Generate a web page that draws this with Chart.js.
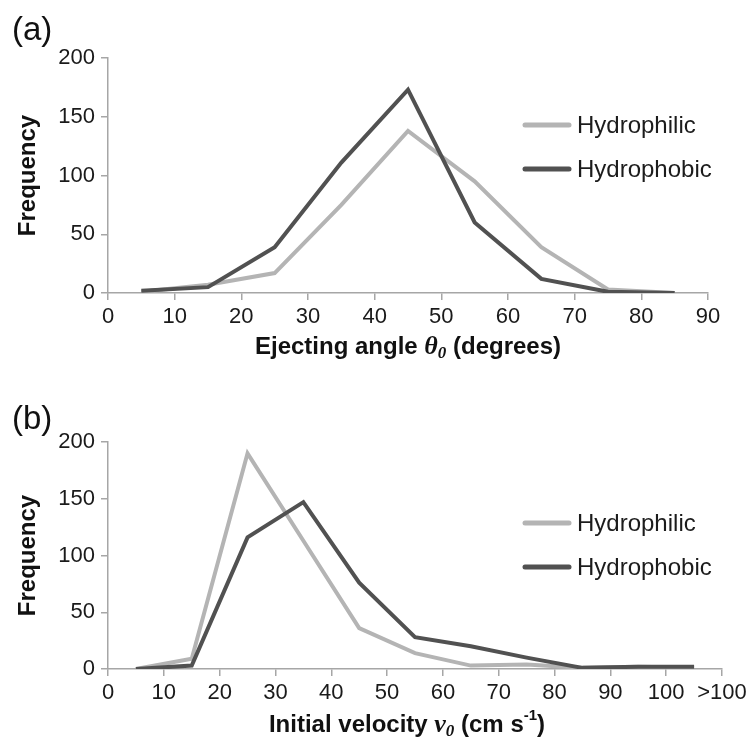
<!DOCTYPE html>
<html>
<head>
<meta charset="utf-8">
<script src="https://cdn.jsdelivr.net/npm/chart.js@4.4.0/dist/chart.umd.min.js"></script>
<style>
  html, body { margin: 0; padding: 0; background: #fff; }
  #wrap { position: relative; width: 751px; height: 743px; overflow: hidden; }
  .panel { position: absolute; left: 0; }
  .tag { position: absolute; left: 12px; font-family: "Liberation Sans", Arial, sans-serif; font-size: 33px; color: #111; line-height: 1; }
</style>
</head>
<body>
<div id="wrap">
  <canvas id="c1" class="panel" style="top:0px" width="751" height="370"></canvas>
  <canvas id="c2" class="panel" style="top:370px" width="751" height="373"></canvas>
  <div class="tag" style="top:12px">(a)</div>
  <div class="tag" style="top:401px">(b)</div>
</div>
<script>
// ---- Data ----
const seriesNames = ["Hydrophilic", "Hydrophobic"];

// Panel (a): ejecting angle bins (bin centres, degrees)
const angleBins = [5, 15, 25, 35, 45, 55, 65, 75, 85];
const angleHydrophilic = [1, 7, 17, 75, 138, 95, 39, 3, 0];
const angleHydrophobic = [2, 5, 39, 111, 173, 60, 12, 1, 0];

// Panel (b): initial velocity bins (bin centres, cm/s; 105 = ">100")
const velocityBins = [5, 15, 25, 35, 45, 55, 65, 75, 85, 95, 105];
const velocityHydrophilic = [0, 9, 190, 113, 36, 14, 3, 4, 1, 2, 1];
const velocityHydrophobic = [0, 3, 116, 147, 76, 28, 20, 10, 1, 2, 2];

const angleTickMax = 90;
const velocityTickMax = 110;
const velocityOverLabel = ">100";
const freqMax = 200;
const freqStep = 50;

// axis titles as rich-text segments: [text, style]  style: n = normal bold, i = italic symbol, sub, sup
const titleAngle = [["Ejecting angle ", "n"], ["\u03B8", "i"], ["0", "sub"], [" (degrees)", "n"]];
const titleVelocity = [["Initial velocity ", "n"], ["v", "i"], ["0", "sub"], [" (cm s", "n"], ["-1", "sup"], [")", "n"]];
const titleFreq = "Frequency";

// ---- Styles ----
const FONT = '"Liberation Sans", Arial, Helvetica, sans-serif';
const SERIF = '"Liberation Serif", "DejaVu Serif", serif';
const lightColor = '#b4b4b4';
const darkColor = '#515151';
const axisColor = '#a6a6a6';

function pts(xs, ys) { return xs.map((x, i) => ({ x: x, y: ys[i] })); }

const segFont = {
  n: 'bold 24px ' + FONT,
  i: 'italic bold 26px ' + SERIF,
  sub: 'italic bold 17px ' + SERIF,
  sup: 'bold 15px ' + FONT
};
const segDy = { n: 0, i: 0, sub: 7, sup: -9 };

const richTitlePlugin = {
  id: 'richTitle',
  afterDraw(chart, args, opts) {
    const ctx = chart.ctx;
    ctx.save();
    ctx.textBaseline = 'middle';
    ctx.textAlign = 'left';
    ctx.fillStyle = '#111';
    let total = 0;
    opts.segments.forEach(([t, s]) => { ctx.font = segFont[s]; total += ctx.measureText(t).width; });
    const ca = chart.chartArea;
    let x = (ca.left + ca.right) / 2 + (opts.dx || 0) - total / 2;
    opts.segments.forEach(([t, s]) => {
      ctx.font = segFont[s];
      ctx.fillText(t, x, opts.y + segDy[s]);
      x += ctx.measureText(t).width;
    });
    ctx.restore();
  }
};

const legendPlugin = {
  id: 'fixedLegend',
  afterDraw(chart, args, opts) {
    const ctx = chart.ctx;
    ctx.save();
    chart.data.datasets.forEach((ds, i) => {
      const y = opts.y + i * opts.gap;
      ctx.strokeStyle = ds.borderColor;
      ctx.lineWidth = 5;
      ctx.lineCap = 'round';
      ctx.beginPath();
      ctx.moveTo(opts.x, y);
      ctx.lineTo(opts.x + 44, y);
      ctx.stroke();
      ctx.fillStyle = '#1c1c1c';
      ctx.font = '24px ' + FONT;
      ctx.textBaseline = 'middle';
      ctx.textAlign = 'left';
      ctx.fillText(ds.label, opts.x + 52, y + 1);
    });
    ctx.restore();
  }
};

function makeChart(id, cfg) {
  return new Chart(document.getElementById(id), {
    type: 'line',
    data: {
      datasets: [
        { label: seriesNames[0], data: pts(cfg.xs, cfg.light), borderColor: lightColor, backgroundColor: lightColor,
          borderWidth: 4, pointRadius: 0, tension: 0, order: 1, borderJoinStyle: 'miter' },
        { label: seriesNames[1], data: pts(cfg.xs, cfg.dark), borderColor: darkColor, backgroundColor: darkColor,
          borderWidth: 4, pointRadius: 0, tension: 0, order: 0, borderJoinStyle: 'miter' }
      ]
    },
    options: {
      responsive: false,
      animation: false,
      devicePixelRatio: 1,
      layout: { padding: { top: cfg.padTop, right: cfg.padRight, left: 0, bottom: 0 } },
      plugins: {
        legend: { display: false },
        tooltip: { enabled: false },
        fixedLegend: { x: 525, y: cfg.legendY, gap: 44 },
        richTitle: { segments: cfg.xTitle, y: cfg.titleY, dx: cfg.titleDx }
      },
      scales: {
        x: {
          type: 'linear',
          min: 0, max: cfg.xMax,
          afterFit(s) { s.height = cfg.xHeight; },
          border: { color: axisColor, width: 1.5 },
          grid: { drawOnChartArea: false, drawTicks: true, tickLength: 7, color: axisColor, lineWidth: 1.5 },
          ticks: {
            stepSize: 10, padding: 4, color: '#1a1a1a', maxRotation: 0, autoSkip: false,
            font: { family: FONT, size: 22 },
            callback: cfg.tickCb
          },
          title: { display: false }
        },
        y: {
          min: 0, max: freqMax,
          afterFit(s) { s.width = 108; },
          border: { color: axisColor, width: 1.5 },
          grid: { drawOnChartArea: false, drawTicks: true, tickLength: 7, color: axisColor, lineWidth: 1.5 },
          ticks: { stepSize: freqStep, padding: 6, color: '#1a1a1a', font: { family: FONT, size: 22 } },
          title: { display: true, text: titleFreq, color: '#111',
            font: { family: FONT, size: 24, weight: 'bold' }, padding: { top: 14, bottom: 0 } }
        }
      }
    },
    plugins: [legendPlugin, richTitlePlugin]
  });
}

makeChart('c1', {
  xs: angleBins, light: angleHydrophilic, dark: angleHydrophobic,
  xMax: angleTickMax, xTitle: titleAngle,
  padTop: 58, padRight: 43, xHeight: 77, titleY: 347, titleDx: 0, legendY: 125,
  tickCb: (v) => v
});

makeChart('c2', {
  xs: velocityBins, light: velocityHydrophilic, dark: velocityHydrophobic,
  xMax: velocityTickMax, xTitle: titleVelocity,
  padTop: 72, padRight: 29, xHeight: 74, titleY: 355, titleDx: -8, legendY: 153,
  tickCb: (v) => (v === velocityTickMax ? velocityOverLabel : v)
});
</script>
</body>
</html>
